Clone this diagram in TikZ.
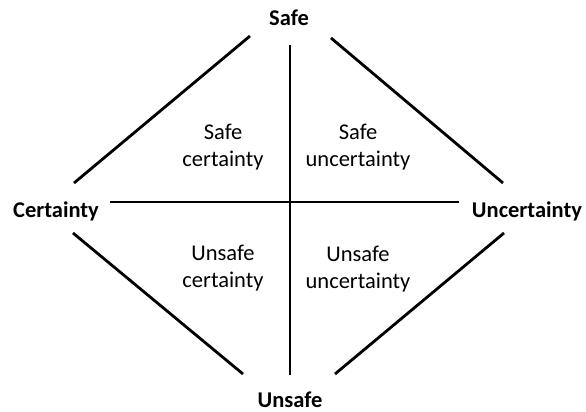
\documentclass[tikz,border=0pt]{standalone}
\usepackage{fontspec}
\setmainfont{Carlito}
\usepackage{tikz}

\begin{document}
\begin{tikzpicture}[
			     x=1pt, y=-1pt,
			     pole/.style={font=\fontsize{22.5}{26}\selectfont\bfseries, inner sep=0pt},
			     field/.style={font=\fontsize{22.5}{27.5}\selectfont, align=center, inner sep=0pt},
			     axis line/.style={line width=2.8pt, line cap=butt}
			     ] 
\useasboundingbox (0,0) rectangle (586,412);
% outer labels
\node[pole] (safe) at (289,18) {Safe};
\node[pole] (cert) at (56,211) {Certainty};
\node[pole] (uncert) at (527,211) {Uncertainty};
\node[pole] (unsafe) at (290,400) {Unsafe};
% quadrant labels
\node[field] (sc) at (223,147) {Safe\\certainty};
\node[field] (su) at (358,147) {Safe\\uncertainty};
\node[field] (uc) at (223,268) {Unsafe\\certainty};
\node[field] (uu) at (358,269) {Unsafe\\uncertainty};
% line ends
\coordinate (v-top) at (290,45);
\coordinate (v-bot) at (290,375);
\coordinate (h-left) at (110,202);
\coordinate (h-right) at (459,202);
\coordinate (tl-a) at (250,36);
\coordinate (tl-b) at (74,183);
\coordinate (tr-a) at (331,38);
\coordinate (tr-b) at (503,183);
\coordinate (bl-a) at (73,233);
\coordinate (bl-b) at (243,374);
\coordinate (br-a) at (504,233);
\coordinate (br-b) at (335,374);
\draw[axis line] (v-top) -- (v-bot);
\draw[axis line] (h-left) -- (h-right);
\draw[axis line] (tl-a) -- (tl-b);
\draw[axis line] (tr-a) -- (tr-b);
\draw[axis line] (bl-a) -- (bl-b);
\draw[axis line] (br-a) -- (br-b);
\end{tikzpicture}
\end{document}
